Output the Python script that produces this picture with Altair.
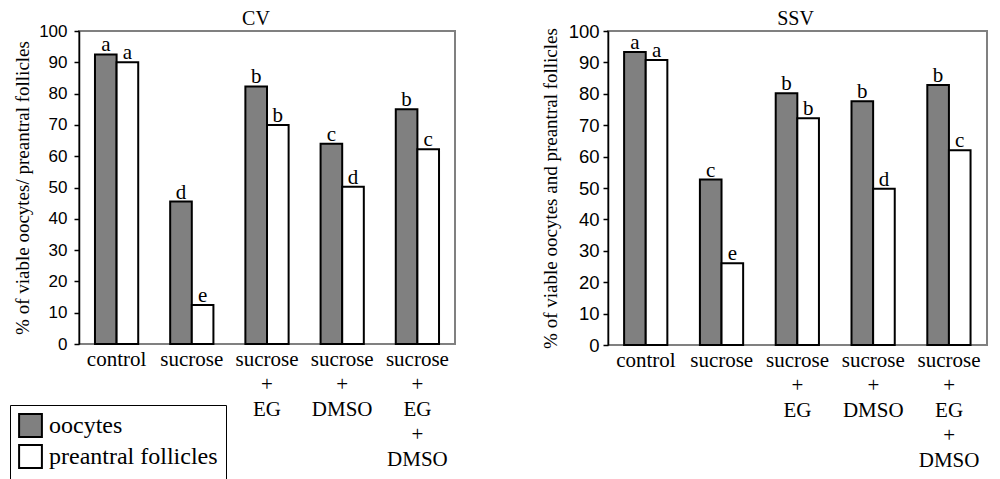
import altair as alt
import pandas as pd

SERIF = "Liberation Serif"
SANS = "Liberation Sans"

treatments = ["control", "sucrose", "sucrose + EG", "sucrose + DMSO", "sucrose + EG + DMSO"]
series = ["oocytes", "preantral follicles"]

cv_oocytes = [92.5, 45.5, 82.3, 64.0, 75.0]
cv_follicles = [90.0, 12.5, 70.0, 50.2, 62.2]
cv_oocyte_letters = ["a", "d", "b", "c", "b"]
cv_follicle_letters = ["a", "e", "b", "d", "c"]

ssv_oocytes = [93.3, 52.7, 80.2, 77.6, 82.8]
ssv_follicles = [90.8, 26.0, 72.2, 49.8, 62.0]
ssv_oocyte_letters = ["a", "c", "b", "b", "b"]
ssv_follicle_letters = ["a", "e", "b", "d", "c"]


def make_df(oo, fo, ool, fol):
    rows = []
    for i, t in enumerate(treatments):
        rows.append({"treatment": t, "series": series[0], "value": oo[i], "letter": ool[i]})
        rows.append({"treatment": t, "series": series[1], "value": fo[i], "letter": fol[i]})
    return pd.DataFrame(rows)


def panel(df, title, ytitle, width, height, show_legend, tick_font, label_pad, title_pad, title_dx):
    x = alt.X(
        "treatment:N", sort=treatments,
        scale=alt.Scale(paddingInner=0.425, paddingOuter=0.2125),
        axis=alt.Axis(title=None, labelExpr="split(datum.label, ' ')", labelAngle=0,
                      labelFont=SERIF, labelFontSize=21, labelColor="black",
                      labelLineHeight=25, labelPadding=4, ticks=False, domain=False,
                      labelOverlap=False),
    )
    xo = alt.XOffset("series:N", sort=series, scale=alt.Scale(paddingInner=0, paddingOuter=0))
    y = alt.Y(
        "value:Q", scale=alt.Scale(domain=[0, 100], nice=False),
        axis=alt.Axis(title=ytitle, values=list(range(0, 101, 10)), grid=False,
                      domainColor="black", domainWidth=1.5, tickColor="black",
                      tickSize=5, tickWidth=1.5, labelFont=SANS, labelFontSize=tick_font,
                      labelColor="black", labelPadding=label_pad, titleFont=SERIF,
                      titleFontSize=19, titleFontWeight="normal", titleColor="black",
                      titlePadding=title_pad),
    )
    if show_legend:
        legend = alt.Legend(title=None, orient="none", legendX=-69, legendY=374,
                            direction="vertical", labelFont=SERIF, labelFontSize=24,
                            labelColor="black", labelLimit=400, symbolType="square",
                            symbolSize=520, symbolStrokeColor="black", symbolStrokeWidth=2,
                            strokeColor="black", padding=8, rowPadding=0, labelOffset=6,
                            symbolOpacity=1)
    else:
        legend = None
    color = alt.Color("series:N", sort=series,
                      scale=alt.Scale(domain=series, range=["#808080", "#ffffff"]),
                      legend=legend)
    bars = alt.Chart(df).mark_bar(stroke="black", strokeWidth=2, opacity=1).encode(
        x=x, xOffset=xo, y=y, color=color)
    text = alt.Chart(df).mark_text(font=SERIF, fontSize=21, baseline="alphabetic",
                                   dy=-3, color="black").encode(
        x=x, xOffset=xo, y=y, text="letter:N")
    return alt.layer(bars, text).properties(
        width=width, height=height,
        title=alt.TitleParams(title, font=SERIF, fontSize=20, fontWeight="normal",
                              offset=-7, dx=title_dx, color="black"))


left = panel(make_df(cv_oocytes, cv_follicles, cv_oocyte_letters, cv_follicle_letters),
             "CV", "% of viable oocytes/ preantral follicles", 376, 313, True, 17, 7, 6, -11)
right = panel(make_df(ssv_oocytes, ssv_follicles, ssv_oocyte_letters, ssv_follicle_letters),
              "SSV", "% of viable oocytes and preantral follicles", 379, 314, False, 18.5, 4, 8, -2)

chart = (
    alt.hconcat(left, right, spacing=84)
    .resolve_scale(color="independent")
    .resolve_legend(color="independent")
    .properties(padding=0, background="white")
    .configure_view(stroke="#808080", strokeWidth=2)
)

chart.save("out.html", embed_options={"renderer": "svg", "actions": False})
